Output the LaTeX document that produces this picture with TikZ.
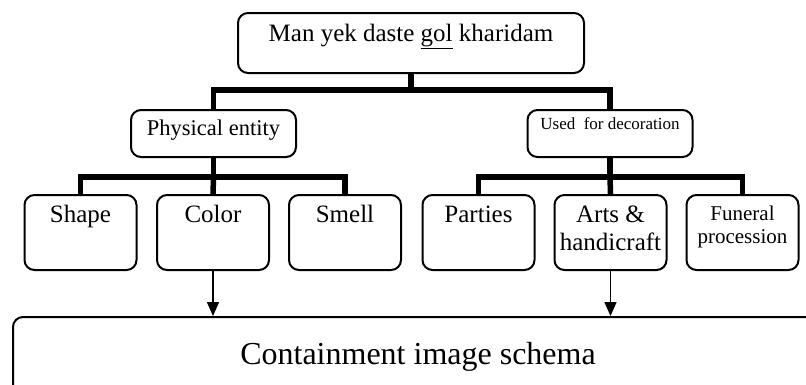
\documentclass[tikz,border=0pt]{standalone}
\usepackage{fontspec}
\setmainfont{Liberation Serif}
\usetikzlibrary{arrows.meta}
\tikzset{
  box/.style={draw, line width=2pt, rounded corners=10pt, inner sep=0pt},
  leafbox/.style={box, minimum width=112pt, minimum height=75pt},
  midbox/.style={box, minimum width=165pt, minimum height=47pt},
  txt/.style={anchor=base, inner sep=0pt, align=center},
  bar/.style={line width=5.5pt},
  arr/.style={line width=1.5pt, -{Triangle[length=14pt, width=12pt]}}
}
\begin{document}
\begin{tikzpicture}[x=1pt, y=-1pt]
\useasboundingbox (0,0) rectangle (806,384);
\clip (0,0) rectangle (806,384);
% top
\node[box, minimum width=346pt, minimum height=60pt] (top) at (411,43) {};
\node[txt, font=\fontsize{25}{28}\selectfont] (toptxt) at (411,41) {Man yek daste \underline{gol} kharidam};
% middle
\node[midbox] (phys) at (213.5,133.5) {};
\node[txt, font=\fontsize{22.5}{25}\selectfont] (phystxt) at (213.5,135) {Physical entity};
\node[midbox] (used) at (610,133.5) {};
\node[txt, font=\fontsize{17}{20}\selectfont] (usedtxt) at (610,129) {Used\ \ for decoration};
% leaves
\node[leafbox] (shape) at (80.5,232.5) {};
\node[txt, font=\fontsize{25}{28}\selectfont] (shapetxt) at (80.5,222) {Shape};
\node[leafbox] (color) at (213,232.5) {};
\node[txt, font=\fontsize{25}{28}\selectfont] (colortxt) at (213,222) {Color};
\node[leafbox] (smell) at (345,232.5) {};
\node[txt, font=\fontsize{25}{28}\selectfont] (smelltxt) at (345,222) {Smell};
\node[leafbox] (parties) at (478.5,232.5) {};
\node[txt, font=\fontsize{25}{28}\selectfont] (partiestxt) at (478.5,222) {Parties};
\node[leafbox] (arts) at (610.5,232.5) {};
\node[txt, font=\fontsize{25}{28}\selectfont] (artstxt) at (610.5,250) {Arts \&\\handicraft};
\node[leafbox] (funeral) at (742.5,232.5) {};
\node[txt, font=\fontsize{21}{23}\selectfont] (funeraltxt) at (742.5,243) {Funeral\\procession};
% bottom
\node[box, minimum width=817pt, minimum height=83pt] (schema) at (421.5,358.5) {};
\node[txt, font=\fontsize{32}{36}\selectfont] (schematxt) at (418,364) {Containment image schema};
% thick connectors
\coordinate (j0) at (411,90);
\coordinate (j1) at (213.5,177);
\coordinate (j2) at (610,177);
\draw[bar] (top.south) -- (j0);
\draw[bar] (phys.north) |- (j0) -| (used.north);
\draw[bar] (phys.south) -- (j1);
\draw[bar] (shape.north) |- (j1) -| (smell.north);
\draw[bar] (j1) -- (color.north);
\draw[bar] (used.south) -- (j2);
\draw[bar] (parties.north) |- (j2) -| (funeral.north);
\draw[bar] (j2) -- (arts.north);
% arrows
\draw[arr] (color.south) -- (color.south |- schema.north);
\draw[arr] (arts.south) -- (arts.south |- schema.north);
\end{tikzpicture}
\end{document}
